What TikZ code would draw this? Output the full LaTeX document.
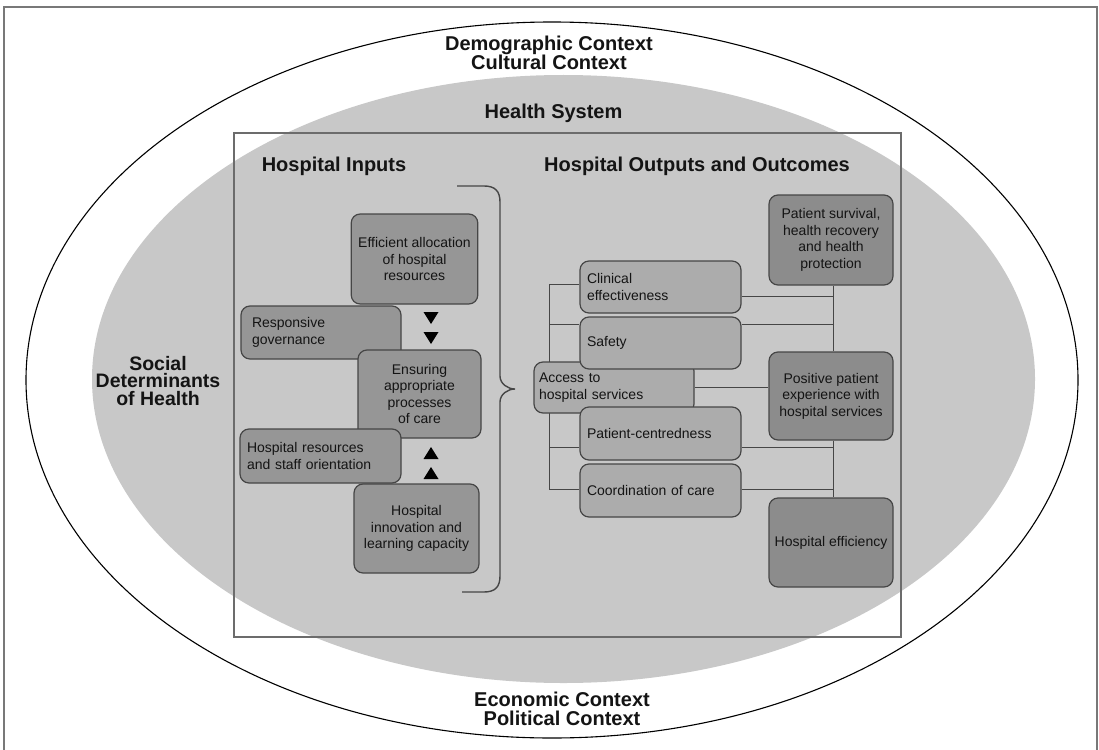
\documentclass[tikz,border=0pt]{standalone}
\usepackage{fontspec}
\setmainfont{Liberation Sans}
\definecolor{ellgray}{RGB}{200,200,200}
\definecolor{inbox}{RGB}{150,150,150}
\definecolor{outbox}{RGB}{140,140,140}
\definecolor{midbox}{RGB}{172,172,172}
\definecolor{edge}{RGB}{70,70,70}
\definecolor{ink}{RGB}{20,20,20}
\definecolor{framegray}{RGB}{120,120,120}
\pgfdeclarelayer{back}
\pgfdeclarelayer{lines}
\pgfsetlayers{back,lines,main}
\begin{document}
\begin{tikzpicture}[x=1pt,y=-1pt,
  box/.style={draw=edge, line width=1.2pt, rounded corners=9pt, inner xsep=7pt, inner ysep=0pt,
              font=\fontsize{14}{16.5}\selectfont, text=ink},
  cbox/.style={box, align=center},
  lbox/.style={box, align=left},
  title/.style={font=\bfseries\fontsize{20}{19}\selectfont, text=ink, align=center, inner sep=0pt},
  conn/.style={draw=edge, line width=0.9pt},
  tri/.style={fill=black}]
\useasboundingbox (0,0) rectangle (1099,749);

\begin{pgfonlayer}{back}
  \fill[white] (0,0) rectangle (1099,749);
  \draw[framegray, line width=2pt] (4,760) -- (4,7) -- (1097,7) -- (1097,760);
  \draw[black, line width=1.1pt] (552,380) ellipse [x radius=526, y radius=358];
  \fill[ellgray] (563.5,379) ellipse [x radius=471.5, y radius=304];
  \draw[framegray!90!black, line width=1.3pt] (234,133) rectangle (901,637);
\end{pgfonlayer}

% titles
\node[title] (demo) at (549,52.5) {Demographic Context\\Cultural Context};
\node[title] (hs) at (553.5,113) {Health System};
\node[title] (hin) at (334,166) {Hospital Inputs};
\node[title] (hout) at (697,166) {Hospital Outputs and Outcomes};
\node[title, font=\bfseries\fontsize{19.5}{17.5}\selectfont] (sdh) at (158,381) {Social\\Determinants\\of Health};
\node[title] (econ) at (562,709) {Economic Context\\Political Context};

% inputs
\node[cbox, fill=inbox, minimum width=125pt, minimum height=90pt] (eff) at (414.5,259) {Efficient allocation\\of hospital\\resources};
\node[lbox, fill=inbox, inner xsep=11pt, text width=138pt, minimum height=53pt] (resp) at (321,332.5) {Responsive\\governance};
\node[cbox, fill=inbox, minimum width=123pt, minimum height=88pt] (ens) at (419.5,394) {Ensuring\\appropriate\\processes\\of care};
\node[lbox, fill=inbox, text width=147pt, minimum height=54pt] (hres) at (320.5,456) {Hospital resources\\and staff orientation};
\node[cbox, fill=inbox, minimum width=125pt, minimum height=89pt] (innov) at (416.5,528.5) {Hospital\\innovation and\\learning capacity};

% triangles
\fill[tri] (423.5,312) -- (438.5,312) -- (431,324) -- cycle;
\fill[tri] (423.5,332) -- (438.5,332) -- (431,344) -- cycle;
\fill[tri] (423.5,459) -- (438.5,459) -- (431,447) -- cycle;
\fill[tri] (423.5,479) -- (438.5,479) -- (431,467) -- cycle;

% brace
\draw[edge, line width=1.4pt] (457,186) -- (484,186) .. controls (495,186) and (500,191) .. (500,202)
  -- (500,376) .. controls (500,384) and (508,389) .. (515,389)
  .. controls (508,389) and (500,394) .. (500,402)
  -- (500,576) .. controls (500,587) and (495,592) .. (484,592) -- (462,592);

% outputs
\node[lbox, fill=midbox, inner xsep=5pt, text width=150pt, minimum height=51pt] (acc) at (614,387.5) {Access to\\hospital services};
\node[lbox, fill=midbox, text width=147pt, minimum height=52pt] (clin) at (660.5,287) {Clinical\\effectiveness};
\node[lbox, fill=midbox, text width=147pt, minimum height=52pt] (safe) at (660.5,343) {Safety};
\node[lbox, fill=midbox, text width=147pt, minimum height=53pt] (pc) at (660.5,433.5) {Patient-centredness};
\node[lbox, fill=midbox, text width=147pt, minimum height=53pt] (coord) at (660.5,490.5) {Coordination of care};

\node[cbox, fill=outbox, minimum width=124pt, minimum height=90pt] (surv) at (831,240) {Patient survival,\\health recovery\\and health\\protection};
\node[cbox, fill=outbox, minimum width=124pt, minimum height=88pt] (pos) at (831,396) {Positive patient\\experience with\\hospital services};
\node[cbox, fill=outbox, inner xsep=3pt, minimum width=124pt, minimum height=89pt] (effi) at (831,542.5) {Hospital efficiency};

\coordinate (ls) at (549,0);
\coordinate (rs) at (833,0);

\begin{pgfonlayer}{lines}
  \draw[conn] ([yshift=3pt]clin.west) -- ([yshift=3pt]clin.west -| ls) -- ([yshift=1.5pt]coord.west -| ls) -- ([yshift=1.5pt]coord.west);
  \draw[conn] ([yshift=19pt]safe.west) -- ([yshift=19pt]safe.west -| ls);
  \draw[conn] ([yshift=-13.5pt]pc.west) -- ([yshift=-13.5pt]pc.west -| ls);
  \draw[conn] ([yshift=-9pt]clin.east) -- ([yshift=-9pt]clin.east -| rs);
  \draw[conn] ([yshift=19pt]safe.east) -- ([yshift=19pt]safe.east -| rs);
  \draw[conn] ([yshift=-13.5pt]pc.east) -- ([yshift=-13.5pt]pc.east -| rs);
  \draw[conn] ([yshift=1.5pt]coord.east) -- ([yshift=1.5pt]coord.east -| rs);
  \draw[conn] (acc.east) -- (acc.east -| pos.west);
  \draw[conn] ([xshift=2pt]surv.south) -- ([xshift=2pt]pos.north);
  \draw[conn] ([xshift=2pt]pos.south) -- ([xshift=2pt]effi.north);
\end{pgfonlayer}
\end{tikzpicture}
\end{document}
